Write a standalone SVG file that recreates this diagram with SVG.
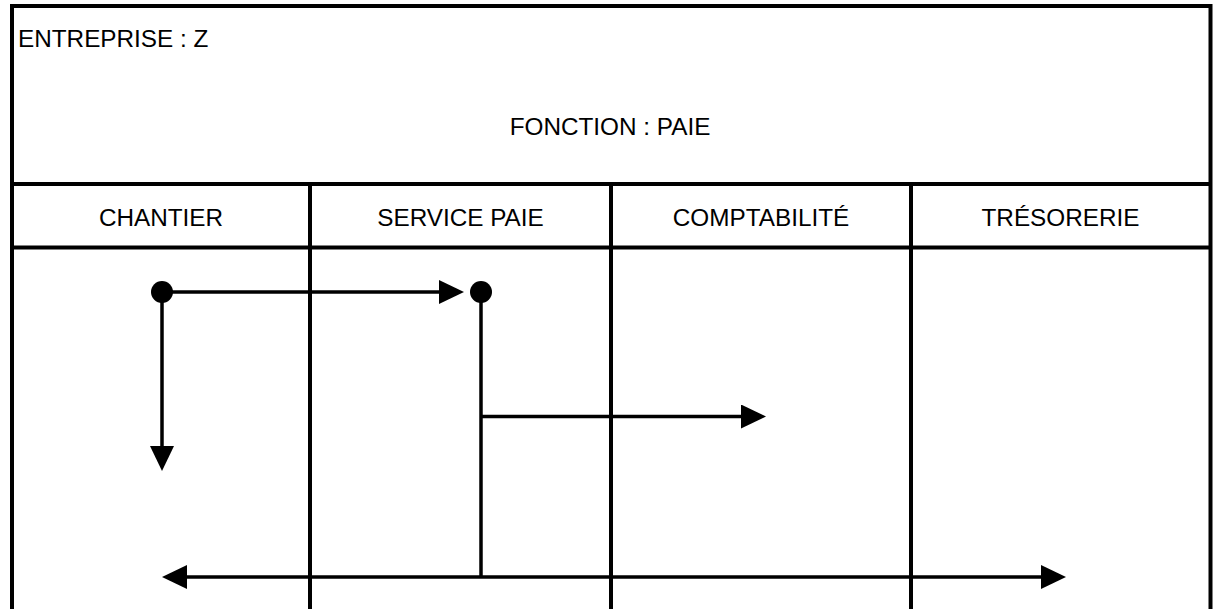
<svg xmlns="http://www.w3.org/2000/svg" width="1213" height="609" viewBox="0 0 1213 609">
  <style>
    .frame { fill: none; stroke: #000; stroke-width: 4; }
    .conn { fill: none; stroke: #000; stroke-width: 3.5; }
    .dot { fill: #000; }
    .lbl { font-family: "Liberation Sans", Arial, sans-serif; font-size: 24.3px; fill: #000; }
    .mid { text-anchor: middle; }
  </style>
  <defs>
    <marker id="arrow" viewBox="0 0 25 24" refX="0" refY="12" markerWidth="25" markerHeight="24" markerUnits="userSpaceOnUse" orient="auto">
      <path d="M0,0 L25,12 L0,24 Z" fill="#000"/>
    </marker>
  </defs>
  <rect x="0" y="0" width="1213" height="609" fill="#fff"/>

  <g id="title">
    <path class="frame" d="M12,609 V6 H1210.5 V609"/>
    <line class="frame" x1="12" y1="184" x2="1210.5" y2="184"/>
    <text class="lbl" x="18" y="46.5">ENTREPRISE : Z</text>
    <text class="lbl mid" x="610" y="134.5">FONCTION : PAIE</text>
  </g>

  <g id="header-row">
    <line class="frame" x1="12" y1="247.5" x2="1210.5" y2="247.5"/>
  </g>

  <g id="lane-chantier">
    <text class="lbl mid" x="161" y="225.5">CHANTIER</text>
  </g>
  <g id="lane-service-paie">
    <line class="frame" x1="310" y1="184" x2="310" y2="609"/>
    <text class="lbl mid" x="460.5" y="225.5">SERVICE PAIE</text>
  </g>
  <g id="lane-comptabilite">
    <line class="frame" x1="611" y1="184" x2="611" y2="609"/>
    <text class="lbl mid" x="761" y="225.5">COMPTABILITÉ</text>
  </g>
  <g id="lane-tresorerie">
    <line class="frame" x1="911" y1="184" x2="911" y2="609"/>
    <text class="lbl mid" x="1060.5" y="225.5">TRÉSORERIE</text>
  </g>

  <g id="connectors">
    <path class="conn" d="M162,292 H439" marker-end="url(#arrow)"/>
    <path class="conn" d="M162,292 V446" marker-end="url(#arrow)"/>
    <path class="conn" d="M481,292 V577"/>
    <path class="conn" d="M481,416.5 H741" marker-end="url(#arrow)"/>
    <path class="conn" d="M481,577 H187" marker-end="url(#arrow)"/>
    <path class="conn" d="M481,577 H1041" marker-end="url(#arrow)"/>
    <circle class="dot" cx="162" cy="292" r="11"/>
    <circle class="dot" cx="481" cy="292" r="11"/>
  </g>
</svg>
